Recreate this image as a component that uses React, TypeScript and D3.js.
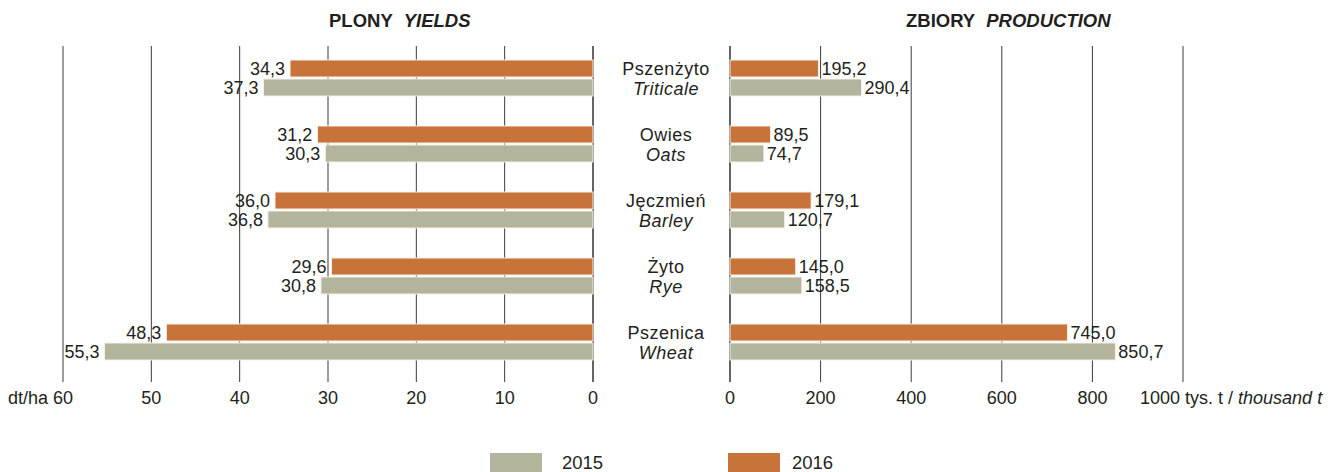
import React from 'react';
import * as d3 from 'd3';

const cropsPl = ['Pszenżyto', 'Owies', 'Jęczmień', 'Żyto', 'Pszenica'];
const cropsEn = ['Triticale', 'Oats', 'Barley', 'Rye', 'Wheat'];
const yields2015 = [37.3, 30.3, 36.8, 30.8, 55.3];
const yields2016 = [34.3, 31.2, 36.0, 29.6, 48.3];
const prod2015 = [290.4, 74.7, 120.7, 158.5, 850.7];
const prod2016 = [195.2, 89.5, 179.1, 145.0, 745.0];
const yieldTicks = [0, 10, 20, 30, 40, 50, 60];
const prodTicks = [0, 200, 400, 600, 800, 1000];
const years = ['2015', '2016'];

const W = 1331;
const H = 472;
const C2015 = '#b3b49b';
const C2016 = '#c87339';
const INK = '#231f20';
const FONT = "'Liberation Sans', Arial, Helvetica, sans-serif";

const fmt = (v: number) => v.toFixed(1).replace('.', ',');

export default function App() {
  const xl = d3.scaleLinear().domain([0, 60]).range([593, 63]);
  const xr = d3.scaleLinear().domain([0, 1000]).range([730, 1183]);
  const y = d3.scalePoint<string>().domain(cropsEn).range([78, 342]);
  const gridTop = 46;
  const gridBottom = 382;
  const barH = 17;
  const gap = 1;

  const rows = cropsEn.map((c, i) => ({
    c,
    pl: cropsPl[i],
    y15: yields2015[i],
    y16: yields2016[i],
    p15: prod2015[i],
    p16: prod2016[i],
    cy: y(c) as number,
  }));

  return (
    <svg
      width={W}
      height={H}
      style={{ position: 'absolute', left: 0, top: 0, background: '#fff' }}
      fontFamily={FONT}
      fill={INK}
    >
      {/* titles */}
      <text x={329} y={27} fontSize={18.5} fontWeight="bold">
        PLONY<tspan dx={11} fontStyle="italic">YIELDS</tspan>
      </text>
      <text x={906} y={27} fontSize={18.5} fontWeight="bold">
        ZBIORY<tspan dx={11} fontStyle="italic">PRODUCTION</tspan>
      </text>

      {/* gridlines */}
      {yieldTicks.map(t => (
        <line key={'gl' + t} x1={xl(t)} x2={xl(t)} y1={gridTop} y2={gridBottom}
          stroke={t === 0 ? '#111' : '#3a3a3a'} strokeWidth={t === 0 ? 1.3 : 1} />
      ))}
      {prodTicks.map(t => (
        <line key={'gr' + t} x1={xr(t)} x2={xr(t)} y1={gridTop} y2={gridBottom}
          stroke={t === 0 ? '#111' : '#3a3a3a'} strokeWidth={t === 0 ? 1.3 : 1} />
      ))}

      {/* tick labels */}
      {yieldTicks.map(t => t === 60 ? (
        <text key={'tl' + t} x={xl(t) + 10} y={404} textAnchor="end" fontSize={18}>dt/ha 60</text>
      ) : (
        <text key={'tl' + t} x={xl(t)} y={404} textAnchor="middle" fontSize={18}>{t}</text>
      ))}
      {prodTicks.map(t => t === 1000 ? (
        <text key={'tr' + t} x={xr(t) - 43} y={404} fontSize={18}>
          1000 tys. t / <tspan fontStyle="italic">thousand t</tspan>
        </text>
      ) : (
        <text key={'tr' + t} x={xr(t)} y={404} textAnchor="middle" fontSize={18}>{t}</text>
      ))}

      {rows.map(r => {
        const top16 = r.cy - barH - gap;
        const top15 = r.cy + gap;
        return (
          <g key={r.c}>
            {/* yields, bars grow leftwards */}
            <rect x={xl(r.y16)} y={top16} width={xl(0) - xl(r.y16)} height={barH}
              fill={C2016} stroke="#f4f1ea" strokeWidth={1} />
            <rect x={xl(r.y15)} y={top15} width={xl(0) - xl(r.y15)} height={barH}
              fill={C2015} stroke="#f4f1ea" strokeWidth={1} />
            <text x={xl(r.y16) - 5} y={top16 + barH / 2 + 6} textAnchor="end" fontSize={18}>{fmt(r.y16)}</text>
            <text x={xl(r.y15) - 5} y={top15 + barH / 2 + 6} textAnchor="end" fontSize={18}>{fmt(r.y15)}</text>

            {/* production, bars grow rightwards */}
            <rect x={xr(0)} y={top16} width={xr(r.p16) - xr(0)} height={barH}
              fill={C2016} stroke="#f4f1ea" strokeWidth={1} />
            <rect x={xr(0)} y={top15} width={xr(r.p15) - xr(0)} height={barH}
              fill={C2015} stroke="#f4f1ea" strokeWidth={1} />
            <text x={xr(r.p16) + 3} y={top16 + barH / 2 + 6} fontSize={18}>{fmt(r.p16)}</text>
            <text x={xr(r.p15) + 3} y={top15 + barH / 2 + 6} fontSize={18}>{fmt(r.p15)}</text>

            {/* category names */}
            <text x={666} y={r.cy - 3} textAnchor="middle" fontSize={18} letterSpacing={0.5}>{r.pl}</text>
            <text x={666} y={r.cy + 17} textAnchor="middle" fontSize={18} letterSpacing={0.5} fontStyle="italic">{r.c}</text>
          </g>
        );
      })}

      {/* legend */}
      {years.map((yr, i) => {
        const lx = i === 0 ? 490 : 728;
        const tx = i === 0 ? 562 : 792;
        return (
          <g key={yr}>
            <rect x={lx} y={453} width={52} height={22} fill={i === 0 ? C2015 : C2016} />
            <text x={tx} y={469} fontSize={18.5}>{yr}</text>
          </g>
        );
      })}
    </svg>
  );
}
